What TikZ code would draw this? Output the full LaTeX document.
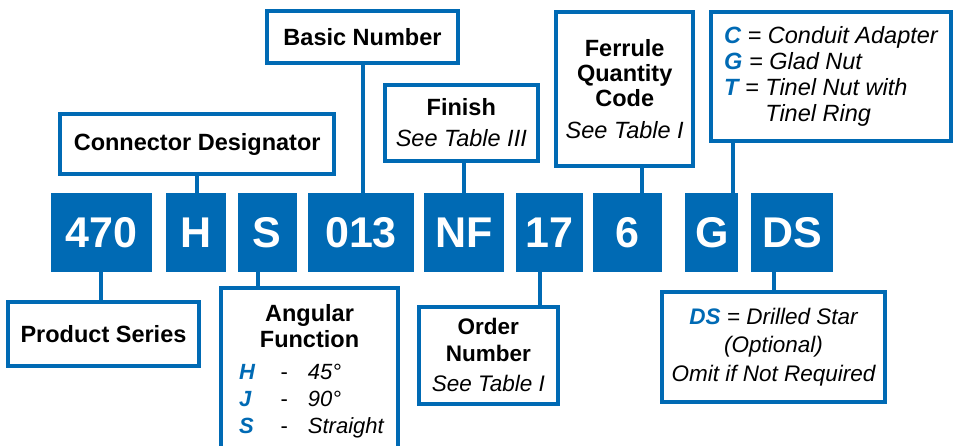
\documentclass[tikz,border=0pt]{standalone}
\usepackage{fontspec}
\setmainfont{Liberation Sans}
\definecolor{pnblue}{RGB}{0,106,180}
\newcommand{\pnkey}[1]{\textcolor{pnblue}{\textbf{\textit{#1}}}}

\begin{document}
\begin{tikzpicture}[x=1pt, y=-1pt,
  codebox/.style={fill=pnblue, text=white, inner sep=0pt, outer sep=0pt,
    minimum height=79pt, font=\fontsize{43}{43}\selectfont\bfseries},
  infobox/.style={draw=pnblue, line width=4pt, fill=white, inner sep=0pt,
    align=center, font=\fontsize{23.5}{25}\selectfont},
  plain/.style={inner sep=0pt, font=\fontsize{23.5}{26}\selectfont},
  link/.style={draw=pnblue, line width=4pt}]

\useasboundingbox (0,0) rectangle (956,445);

\begin{scope}[every node/.append style=codebox]
\node [minimum width=101pt]   (c470) at (101.2,232.5) {470};
\node [minimum width=60.6pt]  (cH)   at (196,232.5)   {H};
\node [minimum width=59pt]    (cS)   at (267.2,232.5) {S};
\node [minimum width=105.4pt] (c013) at (361,232.5)   {013};
\node [minimum width=80.3pt]  (cNF)  at (464.2,232.5) {NF};
\node [minimum width=67.3pt]  (c17)  at (549.7,232.5) {17};
\node [minimum width=68.4pt]  (c6)   at (627.5,232.5) {6};
\node [minimum width=53pt]    (cG)   at (711.8,232.5) {G};
\node [minimum width=82pt]    (cDS)  at (792,232.5)   {DS};
\end{scope}

\begin{scope}[every node/.append style=infobox]
\node [minimum width=191pt, minimum height=52pt] (ibas) at (362.5,37.2) {\textbf{Basic Number}};
\node [minimum width=273.7pt, minimum height=59.7pt] (icon) at (197.2,144.2) {\textbf{Connector Designator}};
\node [minimum width=153.3pt, minimum height=75.7pt] (ifin) at (461.3,122.8) {\textbf{Finish}\\[5.7pt]\textit{See Table III}};
\node [minimum width=136.7pt, minimum height=154.3pt] (ifer) at (624.7,89.2) {\textbf{Ferrule}\\\textbf{Quantity}\\\textbf{Code}\\[6.6pt]\textit{See Table I}};
\node [minimum width=240.6pt, minimum height=128.7pt, align=left,
  font=\fontsize{23.5}{26}\selectfont\itshape] (inut) at (831,76.3)
  {\pnkey{C} = Conduit Adapter\\\pnkey{G} = Glad Nut\\\pnkey{T} = Tinel Nut with\\\phantom{\pnkey{T} = }Tinel Ring};

\node [minimum width=191pt, minimum height=63.7pt] (iser) at (103.5,333.8) {\textbf{Product Series}};
\node [minimum width=177pt, minimum height=180pt, anchor=north] (iang) at (309.5,286) {};
\node [minimum width=139.3pt, minimum height=96.7pt,
  font=\fontsize{22.5}{25}\selectfont] (iord) at (488.3,355.3) {\textbf{Order}\\[1.7pt]\textbf{Number}\\[5pt]\textit{See Table I}};
\node [minimum width=223.6pt, minimum height=110.6pt,
  font=\fontsize{22.5}{28.5}\selectfont\itshape] (ids) at (773.5,347)
  {\pnkey{DS} = Drilled Star\\(Optional)\\Omit if Not Required};
\end{scope}

\node [plain, align=center, anchor=north] (iangt) at (309.5,304) {\textbf{Angular}\\\textbf{Function}};
\node [plain, anchor=base west, font=\fontsize{22}{27}\selectfont\itshape] (iangr) at (239,379)
  {\begin{tabular}[t]{@{}l@{\hspace{25.6pt}}l@{\hspace{19.9pt}}l@{}}
   \pnkey{H} & \textup{-} & 45°\\
   \pnkey{J} & \textup{-} & 90°\\
   \pnkey{S} & \textup{-} & Straight
   \end{tabular}};

\begin{scope}[link]
\draw (icon.south) -- (icon.south |- cH.north);
\draw (ibas.south) -- (ibas.south |- c013.north);
\draw (cNF.north) -- (cNF.north |- ifin.south);
\draw ([xshift=17pt]ifer.south) -- ([xshift=17pt]ifer.south |- c6.north);
\draw ([xshift=21pt]cG.north) -- ([xshift=21pt]cG.north |- inut.south);
\draw (c470.south) -- (c470.south |- iser.north);
\draw ([xshift=-9pt]cS.south) -- ([xshift=-9pt]cS.south |- iang.north);
\draw ([xshift=-10pt]c17.south) -- ([xshift=-10pt]c17.south |- iord.north);
\draw (ids.north) -- (ids.north |- cDS.south);
\end{scope}
\end{tikzpicture}
\end{document}
